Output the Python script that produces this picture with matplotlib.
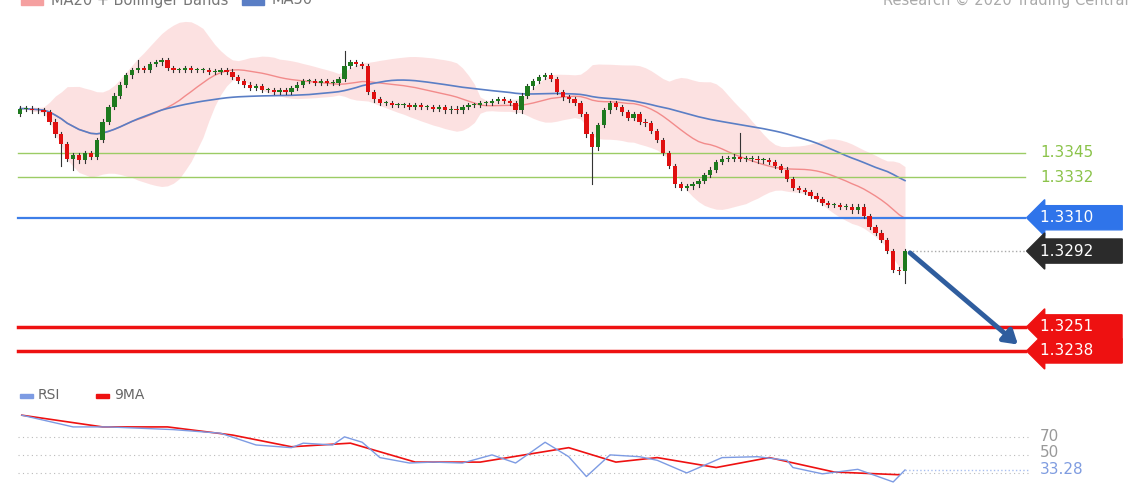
import numpy as np
import pandas as pd
import matplotlib.pyplot as plt
from matplotlib.patches import Rectangle

# closes in pips above 1.3300
close_pips = [69, 69, 68, 68, 67, 62, 55, 50, 42, 44, 41, 45, 43, 52, 62, 70, 76, 82, 87, 90,
              91, 90, 93, 94, 95, 91, 90, 90, 91, 90, 90, 90, 89, 89, 90, 89, 86, 84, 82, 80,
              81, 79, 79, 78, 79, 78, 80, 82, 84, 84, 83, 84, 83, 83, 85, 92, 94, 93, 92, 78,
              74, 72, 72, 71, 71, 71, 70, 71, 70, 70, 69, 70, 68, 69, 68, 70, 71, 71, 72, 72,
              73, 74, 73, 72, 68, 76, 81, 84, 86, 87, 85, 78, 75, 74, 72, 66, 55, 48, 60, 68,
              72, 70, 67, 64, 66, 62, 61, 57, 52, 45, 38, 28, 26, 27, 28, 30, 33, 36, 40, 42,
              42, 43, 42, 42, 42, 41, 41, 40, 38, 36, 31, 26, 25, 24, 22, 20, 18, 17, 17, 16,
              16, 14, 16, 11, 5, 2, -2, -8, -18, -19, -8]
first_open_pips = 66
long_wicks_high = {55: 100, 122: 56, 20: 95}
long_wicks_low = {7: 38, 97: 28, 150: -25, 9: 36}

levels_green = [1.3345, 1.3332]
level_blue = 1.3310
level_last = 1.3292
levels_red = [1.3251, 1.3238]

rsi_idx = [0.3, 9, 15, 26, 34, 40, 46, 48, 53, 55, 58, 61, 66, 70, 75, 80, 84, 89, 93, 96,
           100, 105, 108, 113, 119, 125, 130, 131, 136, 142, 148, 150]
rsi_val = [94, 81, 81, 78, 74, 61, 58, 63, 61, 70, 64, 47, 41, 42, 41, 50, 41, 64, 48, 26,
           50, 48, 44, 30, 47, 48, 44, 36, 29, 34, 20, 33.28]
ma9_idx = [0.3, 14, 25, 36, 46, 56, 67, 78, 93, 101, 108, 118, 127, 138, 149]
ma9_val = [94, 81, 81, 72, 59, 63, 42, 42, 58, 42, 47, 36, 47, 31, 28]

GREEN = "#1e7a1e"
RED = "#e01010"
PX = 5.9  # pixels per candle


def px2x(px):
    return (px - 20) / PX


close = 1.33 + np.array(close_pips) / 10000
opens = np.concatenate([[1.33 + first_open_pips / 10000], close[:-1]])
n = len(close)
s = pd.Series(close)
ma20 = s.rolling(20, min_periods=1).mean()
sd20 = s.rolling(20, min_periods=2).std().bfill()
ma50 = s.rolling(50, min_periods=1).mean()

fig = plt.figure(figsize=(11.4, 5), dpi=100)
ax = fig.add_axes([0, 0.24, 1, 0.76])
ax.set_xlim(px2x(0), px2x(1140))
ax.set_ylim(1.32223, 1.34277)
ax.axis("off")

x = np.arange(n)
ax.fill_between(x, ma20 - 2 * sd20, ma20 + 2 * sd20, color="#fcdada", alpha=0.8, lw=0)
ax.plot(x, ma20, color="#f28b8b", lw=1)
ax.plot(x, ma50, color="#5a7ec5", lw=1.2)

for i in range(n):
    o, c = opens[i], close[i]
    col = GREEN if c >= o else RED
    hi = max(o, c) + 0.00012
    lo = min(o, c) - 0.00012
    if i in long_wicks_high:
        hi = 1.33 + long_wicks_high[i] / 10000
    if i in long_wicks_low:
        lo = 1.33 + long_wicks_low[i] / 10000
    ax.plot([i, i], [lo, hi], color="#333333", lw=0.8, zorder=3)
    h = max(abs(c - o), 0.00005)
    ax.add_patch(Rectangle((i - 0.36, min(o, c)), 0.72, h, color=col, zorder=4, lw=0))

xl, xr = px2x(18), px2x(1025)
for lv in levels_green:
    ax.plot([xl, xr], [lv, lv], color="#9ccc65", lw=1)
    ax.text(px2x(1040), lv, f"{lv:.4f}", color="#8bc34a", fontsize=11, va="center")
ax.plot([xl, xr], [level_blue] * 2, color="#3d7ee8", lw=1.6)
ax.plot([n - 1, xr], [level_last] * 2, color="#aaaaaa", lw=1, ls=":")
for lv in levels_red:
    ax.plot([xl, xr], [lv, lv], color="#ee1111", lw=2.5)

tags = [(level_blue, "#2f74ea"), (level_last, "#2b2b2b")] + [(lv, "#ee1111") for lv in levels_red]
for lv, col in tags:
    ax.text(px2x(1040), lv, f"{lv:.4f}     ", color="white", fontsize=11, va="center",
            bbox=dict(boxstyle="larrow,pad=0.3", fc=col, ec=col))

ax.annotate("", xy=(px2x(1020), 1.32405), xytext=(n - 0.5, level_last),
            arrowprops=dict(arrowstyle="-|>,head_width=0.5,head_length=0.8",
                            color="#2f5d9e", lw=3.5))

# legend row, cut by the top edge as in the original
fig.patches.append(Rectangle((0.018, 0.99), 0.02, 0.02, color="#f5a0a0",
                             transform=fig.transFigure, figure=fig))
fig.text(0.045, 1.0, "MA20 + Bollinger Bands", fontsize=10.5, color="#777777", va="center")
fig.patches.append(Rectangle((0.212, 0.99), 0.02, 0.02, color="#5a7ec5",
                             transform=fig.transFigure, figure=fig))
fig.text(0.238, 1.0, "MA50", fontsize=10.5, color="#777777", va="center")
fig.text(0.99, 1.0, "Research © 2020 Trading Central", fontsize=10.5, color="#aaaaaa",
         va="center", ha="right")

# RSI panel
rx = fig.add_axes([0, 0, 1, 0.24])
rx.set_xlim(px2x(0), px2x(1140))
rx.set_ylim(0, 133)
rx.axis("off")
for lv in [70, 50, 30]:
    rx.plot([xl, px2x(1030)], [lv, lv], color="#bbbbbb", lw=0.8, ls=(0, (1, 3)))
rx.text(px2x(1040), 70, "70", color="#999999", fontsize=11, va="center")
rx.text(px2x(1040), 53, "50", color="#999999", fontsize=11, va="center")
rx.text(px2x(1040), 33.28, "33.28", color="#7f9ce0", fontsize=11, va="center")
rx.plot([150, px2x(1030)], [33.28] * 2, color="#a8bff0", lw=1, ls=":")
rx.plot(ma9_idx, ma9_val, color="#ee1111", lw=1.2)
rx.plot(rsi_idx, rsi_val, color="#7d9be3", lw=1)
rx.add_patch(Rectangle((px2x(20), 113), 2.2, 5, color="#7d9be3"))
rx.text(px2x(38), 116, "RSI", color="#666666", fontsize=10, va="center")
rx.add_patch(Rectangle((px2x(96), 113), 2.2, 5, color="#ee1111"))
rx.text(px2x(114), 116, "9MA", color="#666666", fontsize=10, va="center")

fig.savefig("out.png", dpi=100)
